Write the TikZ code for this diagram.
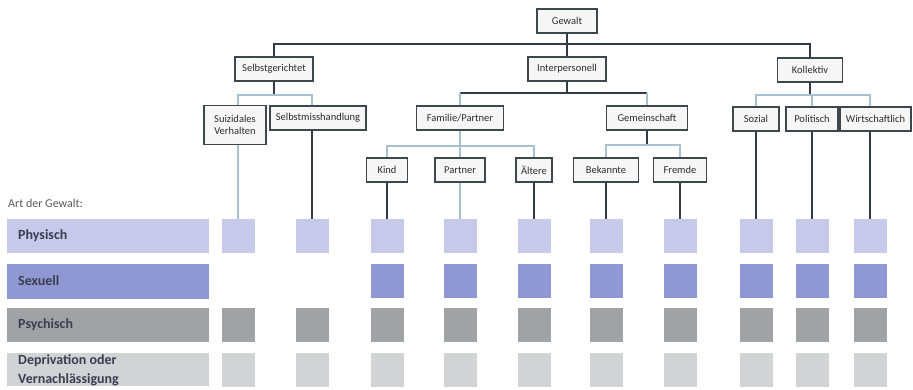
\documentclass[tikz,border=0pt]{standalone}
\usepackage{fontspec}
\setmainfont{Carlito}
\usetikzlibrary{backgrounds}

\definecolor{physc}{RGB}{198,201,233}
\definecolor{sexc}{RGB}{143,152,210}
\definecolor{psychc}{RGB}{160,162,166}
\definecolor{deprc}{RGB}{209,211,213}
\definecolor{boxline}{RGB}{62,71,76}
\definecolor{boxfill}{RGB}{246,246,246}
\definecolor{boxtext}{RGB}{45,45,45}
\definecolor{darkc}{RGB}{50,60,66}
\definecolor{lightc}{RGB}{168,193,206}
\definecolor{labeltext}{RGB}{58,62,80}

\tikzset{
  box/.style={draw=boxline,line width=1.4pt,fill=boxfill,text=boxtext,
    font=\fontsize{10.5}{12}\selectfont,inner sep=2pt,minimum height=24pt,align=center},
  sq/.style={minimum width=33pt,minimum height=34pt,inner sep=0pt},
  darkline/.style={draw=darkc,line width=1.3pt},
  lightline/.style={draw=lightc,line width=1.3pt},
  rowlabel/.style={anchor=west,font=\fontsize{14}{19}\selectfont\bfseries,
    text=labeltext,align=left,inner sep=0pt}
}

\begin{document}
\begin{tikzpicture}[x=1pt,y=-1pt]
\useasboundingbox (0,0) rectangle (913,390);
% tree
\node[box,minimum width=60pt] (gewalt) at (567,21) {Gewalt};
\node[box,minimum width=78pt] (selbst) at (274,69) {Selbstgerichtet};
\node[box,minimum width=78pt] (inter) at (567,69) {Interpersonell};
\node[box,minimum width=65pt] (koll) at (810,70) {Kollektiv};
\node[box,minimum width=62pt,minimum height=39pt] (suiz) at (235,125) {Suizidales\\Verhalten};
\node[box,minimum width=96pt] (selbstm) at (318,118) {Selbstmisshandlung};
\node[box,minimum width=87pt] (fam) at (460,118) {Familie/Partner};
\node[box,minimum width=81pt] (gem) at (647,118) {Gemeinschaft};
\node[box,minimum width=46pt] (sozial) at (756,119) {Sozial};
\node[box,minimum width=52pt] (polit) at (812,119) {Politisch};
\node[box,minimum width=71pt] (wirt) at (875.5,119) {Wirtschaftlich};
\node[box,minimum width=41pt] (kind) at (387,170) {Kind};
\node[box,minimum width=50pt] (partner) at (460,170) {Partner};
\node[box,minimum width=36pt] (aeltere) at (534,170) {Ältere};
\node[box,minimum width=65pt] (bekannte) at (606,170) {Bekannte};
\node[box,minimum width=53pt] (fremde) at (680,170) {Fremde};
\coordinate (topbar) at (567,44);
\coordinate (selbstbar) at (274,95);
\coordinate (interbar) at (567,93);
\coordinate (kollbar) at (810,95);
\coordinate (fambar) at (460,146);
\coordinate (gembar) at (647,145);
% type of violence
\node[anchor=west,inner sep=0pt,text=black!65,font=\fontsize{12}{14}\selectfont] (art) at (8,203) {Art der Gewalt:};
\fill[physc] (7,219) rectangle (209,253);
\node[rowlabel] (lphys) at (18,236) {Physisch};
\fill[sexc] (7,264) rectangle (209,299);
\node[rowlabel] (lsex) at (18,281) {Sexuell};
\fill[psychc] (7,308) rectangle (209,342);
\node[rowlabel] (lpsych) at (18,325) {Psychisch};
\fill[deprc] (7,353) rectangle (209,386);
\node[rowlabel] (ldepr) at (18,370) {Deprivation oder\\Vernachlässigung};
% physisch
\node[sq,fill=physc] (ph1) at (238,236) {};
\node[sq,fill=physc] (ph2) at (312,236) {};
\node[sq,fill=physc] (ph3) at (387,236) {};
\node[sq,fill=physc] (ph4) at (460,236) {};
\node[sq,fill=physc] (ph5) at (534,236) {};
\node[sq,fill=physc] (ph6) at (606,236) {};
\node[sq,fill=physc] (ph7) at (680,236) {};
\node[sq,fill=physc] (ph8) at (756,236) {};
\node[sq,fill=physc] (ph9) at (812,236) {};
\node[sq,fill=physc] (ph10) at (870,236) {};
% sexuell
\node[sq,fill=sexc] (sx3) at (387,281) {};
\node[sq,fill=sexc] (sx4) at (460,281) {};
\node[sq,fill=sexc] (sx5) at (534,281) {};
\node[sq,fill=sexc] (sx6) at (606,281) {};
\node[sq,fill=sexc] (sx7) at (680,281) {};
\node[sq,fill=sexc] (sx8) at (756,281) {};
\node[sq,fill=sexc] (sx9) at (812,281) {};
\node[sq,fill=sexc] (sx10) at (870,281) {};
% psychisch
\node[sq,fill=psychc] (ps1) at (238,325) {};
\node[sq,fill=psychc] (ps2) at (312,325) {};
\node[sq,fill=psychc] (ps3) at (387,325) {};
\node[sq,fill=psychc] (ps4) at (460,325) {};
\node[sq,fill=psychc] (ps5) at (534,325) {};
\node[sq,fill=psychc] (ps6) at (606,325) {};
\node[sq,fill=psychc] (ps7) at (680,325) {};
\node[sq,fill=psychc] (ps8) at (756,325) {};
\node[sq,fill=psychc] (ps9) at (812,325) {};
\node[sq,fill=psychc] (ps10) at (870,325) {};
% deprivation
\node[sq,fill=deprc] (dp1) at (238,369.5) {};
\node[sq,fill=deprc] (dp2) at (312,369.5) {};
\node[sq,fill=deprc] (dp3) at (387,369.5) {};
\node[sq,fill=deprc] (dp4) at (460,369.5) {};
\node[sq,fill=deprc] (dp5) at (534,369.5) {};
\node[sq,fill=deprc] (dp6) at (606,369.5) {};
\node[sq,fill=deprc] (dp7) at (680,369.5) {};
\node[sq,fill=deprc] (dp8) at (756,369.5) {};
\node[sq,fill=deprc] (dp9) at (812,369.5) {};
\node[sq,fill=deprc] (dp10) at (870,369.5) {};
% connectors
\begin{pgfonlayer}{background}
\draw[darkline] (gewalt) -- (inter);
\draw[darkline] (selbst.north) |- (topbar) -| (koll.north);
\draw[darkline] (selbst) -- (selbstbar);
\draw[lightline] (ph1 |- suiz.north) |- (selbstbar) -| (ph2 |- selbstm.north);
\draw[darkline] (inter) -- (interbar);
\draw[darkline] (fam.north |- interbar) -- (gem.north |- interbar);
\draw[lightline] (fam.north |- interbar) -- (ph4.north);
\draw[lightline] (gem.north |- interbar) -- (gem.north);
\draw[darkline] (koll) -- (kollbar);
\draw[lightline] (sozial.north) |- (kollbar) -| (ph10 |- wirt.north);
\draw[lightline] (polit.north) -- (polit.north |- kollbar);
\draw[lightline] (kind.north) |- (fambar) -| (aeltere.north);
\draw[darkline] (gem) -- (gembar);
\draw[lightline] (bekannte.north) |- (gembar) -| (fremde.north);
\draw[lightline] (ph1 |- suiz.south) -- (ph1);
\draw[darkline] (ph2 |- selbstm.south) -- (ph2);
\draw[darkline] (kind) -- (ph3);
\draw[darkline] (aeltere) -- (ph5);
\draw[darkline] (bekannte) -- (ph6);
\draw[darkline] (fremde) -- (ph7);
\draw[darkline] (sozial) -- (ph8);
\draw[darkline] (polit) -- (ph9);
\draw[darkline] (ph10 |- wirt.south) -- (ph10);
\end{pgfonlayer}
\end{tikzpicture}
\end{document}
